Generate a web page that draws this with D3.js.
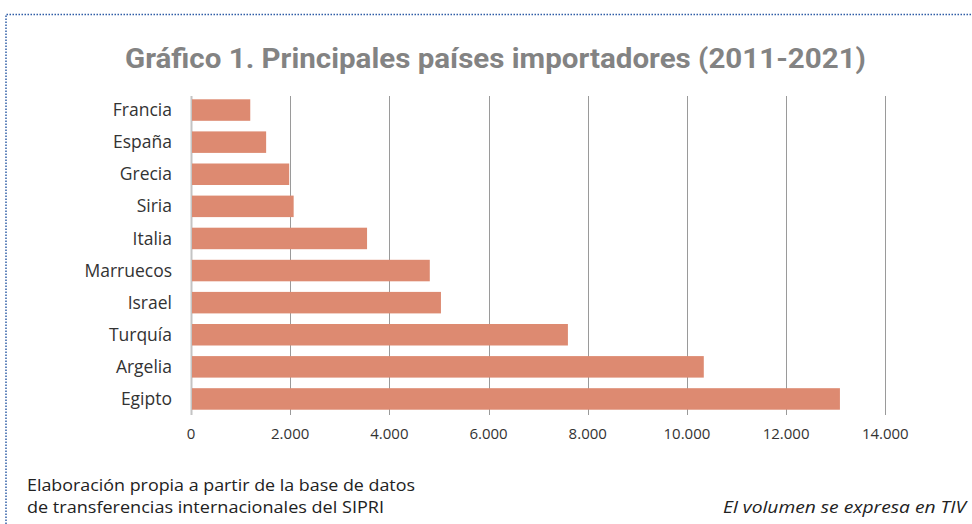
<!DOCTYPE html>
<html>
<head>
<meta charset="utf-8">
<script src="https://cdn.jsdelivr.net/npm/d3@7"></script>
<style>
  body { margin: 0; background: #fff; }
  svg { display: block; font-family: "Open Sans", "Noto Sans", sans-serif; }
</style>
</head>
<body>
<svg id="chart"></svg>
<script>
// data (TIV, millions)
const countries = ["Francia", "España", "Grecia", "Siria", "Italia", "Marruecos", "Israel", "Turquía", "Argelia", "Egipto"];
const volumes = [1195, 1515, 1980, 2070, 3550, 4815, 5040, 7600, 10340, 13085];
const xTicks = [0, 2000, 4000, 6000, 8000, 10000, 12000, 14000];

const titleText = "Gráfico 1. Principales países importadores (2011-2021)";
const sourceLines = ["Elaboración propia a partir de la base de datos", "de transferencias internacionales del SIPRI"];
const unitNote = "El volumen se expresa en TIV";

const width = 972;
const height = 524;
const marginLeft = 191;
const plotRight = 885.3;
const plotTop = 94;
const plotBottom = 415;

const data = countries.map((c, i) => ({ country: c, value: volumes[i] }));

const svg = d3.select("#chart")
    .attr("width", width)
    .attr("height", height)
    .attr("viewBox", [0, 0, width, height]);

// dotted frame (top + left)
svg.append("path")
    .attr("d", `M6,${height} L6,14.5 L${width},14.5`)
    .attr("fill", "none")
    .attr("stroke", "#2f5da6")
    .attr("stroke-width", 1.5)
    .attr("stroke-dasharray", "1.5,1.5");

// title
svg.append("text")
    .attr("x", 495.5)
    .attr("y", 68)
    .attr("text-anchor", "middle")
    .attr("fill", "#838383")
    .attr("font-family", "Roboto, sans-serif")
    .attr("font-weight", "bold")
    .attr("font-size", 28)
    .attr("textLength", 741)
    .attr("lengthAdjust", "spacingAndGlyphs")
    .text(titleText);

const x = d3.scaleLinear()
    .domain([0, 14000])
    .range([marginLeft, plotRight]);

const y = d3.scaleBand()
    .domain(countries)
    .range([plotTop, plotBottom])
    .paddingInner(0.33)
    .paddingOuter(0.165);

// grid lines
svg.append("g")
    .selectAll("line")
    .data(xTicks)
    .join("line")
      .attr("x1", d => Math.round(x(d)) + 0.5)
      .attr("x2", d => Math.round(x(d)) + 0.5)
      .attr("y1", plotTop + 2)
      .attr("y2", plotBottom)
      .attr("stroke", d => d === 0 ? "#c4c4c4" : "#9a9a9a")
      .attr("stroke-width", d => d === 0 ? 2 : 1);

// bars
svg.append("g")
    .selectAll("rect")
    .data(data)
    .join("rect")
      .attr("x", x(0) + 1)
      .attr("y", d => y(d.country))
      .attr("width", d => x(d.value) - x(0) - 1)
      .attr("height", y.bandwidth())
      .attr("fill", "#dd8a71");

// category labels
svg.append("g")
    .selectAll("text")
    .data(data)
    .join("text")
      .attr("x", 172)
      .attr("y", d => y(d.country) + y.bandwidth() / 2)
      .attr("dy", "0.35em")
      .attr("text-anchor", "end")
      .attr("fill", "#333")
      .attr("font-size", 17.5)
      .text(d => d.country);

// x tick labels
const fmt = d3.formatLocale({ decimal: ",", thousands: ".", grouping: [3], currency: ["", "€"] }).format(",");
svg.append("g")
    .selectAll("text")
    .data(xTicks)
    .join("text")
      .attr("x", d => x(d))
      .attr("y", 439)
      .attr("text-anchor", "middle")
      .attr("fill", "#333")
      .attr("font-size", 15)
      .text(d => fmt(d));

// footer
const sourceWidths = [388, 357];
svg.append("g")
    .selectAll("text")
    .data(sourceLines)
    .join("text")
      .attr("x", 27)
      .attr("y", (d, i) => 491 + i * 22)
      .attr("fill", "#222")
      .attr("font-size", 17)
      .attr("textLength", (d, i) => sourceWidths[i])
      .attr("lengthAdjust", "spacingAndGlyphs")
      .text(d => d);

svg.append("text")
    .attr("x", 966)
    .attr("y", 513)
    .attr("text-anchor", "end")
    .attr("fill", "#222")
    .attr("font-size", 17)
    .attr("font-style", "italic")
    .attr("textLength", 243)
    .attr("lengthAdjust", "spacingAndGlyphs")
    .text(unitNote);
</script>
</body>
</html>
